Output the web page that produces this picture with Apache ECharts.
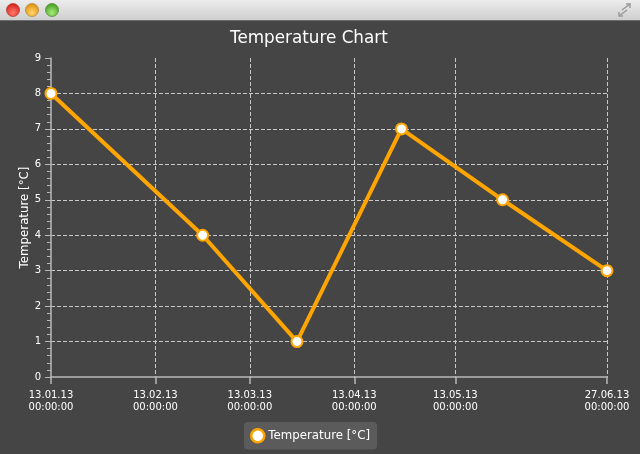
<!DOCTYPE html>
<html><head><meta charset="utf-8">
<script src="https://cdn.jsdelivr.net/npm/echarts@6/dist/echarts.min.js"></script>
<style>html,body{margin:0;padding:0;background:#454545;overflow:hidden}#c{width:640px;height:454px}</style>
</head><body><div id="c"></div>
<script>
const pointDates = ['2013-01-13', '2013-02-27', '2013-03-27', '2013-04-27', '2013-05-27', '2013-06-27'];
const temperatures = [8, 4, 1, 7, 5, 3];
const xTickDates = ['2013-01-13', '2013-02-13', '2013-03-13', '2013-04-13', '2013-05-13', '2013-06-27'];
const yMin = 0, yMax = 9, yStep = 1;
const chartTitle = 'Temperature Chart';
const seriesName = 'Temperature [°C]';
const yAxisTitle = 'Temperature [°C]';

function toTs(s) { const p = s.split('-').map(Number); return new Date(p[0], p[1] - 1, p[2]).getTime(); }
function pad(n) { return (n < 10 ? '0' : '') + n; }
function fmt(v) {
  const d = new Date(v);
  return pad(d.getDate()) + '.' + pad(d.getMonth() + 1) + '.' + pad(d.getFullYear() % 100) + '\n' +
    pad(d.getHours()) + ':' + pad(d.getMinutes()) + ':' + pad(d.getSeconds());
}
const xTicks = xTickDates.map(toTs);
const seriesData = pointDates.map((d, i) => [toTs(d), temperatures[i]]);

const FONT = 'DejaVu Sans';
const ORANGE = '#FFA500';
const chart = echarts.init(document.getElementById('c'), null, { renderer: 'canvas' });
chart.setOption({
  backgroundColor: '#454545',
  animation: false,
  title: {
    text: chartTitle, left: 230, top: 30, padding: 0,
    textStyle: { color: '#ffffff', fontSize: 16.8, fontWeight: 'normal', fontFamily: FONT }
  },
  legend: {
    data: [{ name: seriesName, icon: 'circle' }],
    left: 244, top: 422, padding: [6, 7, 6, 6],
    backgroundColor: '#5b5b5b', borderRadius: 4,
    itemWidth: 13, itemHeight: 13, itemGap: 4,
    itemStyle: { color: '#ffffff', borderColor: ORANGE, borderWidth: 2.5 },
    textStyle: { color: '#ffffff', fontSize: 11.8, fontFamily: FONT, padding: [0, 0, 0, -1] }
  },
  grid: { left: 51, right: 33, top: 58, bottom: 77, containLabel: false },
  xAxis: {
    type: 'value', scale: true,
    min: xTicks[0], max: xTicks[xTicks.length - 1],
    axisLine: { show: true, lineStyle: { color: '#b8b8b8', width: 1.5 } },
    axisTick: { show: true, customValues: xTicks, length: 7, lineStyle: { color: '#b8b8b8', width: 1.5 } },
    axisLabel: {
      customValues: xTicks, formatter: fmt, color: '#ffffff', fontSize: 10, fontFamily: FONT,
      lineHeight: 12, margin: 12.5, hideOverlap: false, showMinLabel: true, showMaxLabel: true
    },
    splitLine: { show: true, showMinLine: false, showMaxLine: true, lineStyle: { color: '#c8c8c8', type: [4, 2], width: 1 } }
  },
  yAxis: {
    type: 'value', min: yMin, max: yMax, interval: yStep,
    name: yAxisTitle, nameLocation: 'middle', nameGap: 20, nameRotate: 90, nameMoveOverlap: false,
    nameTextStyle: { color: '#ffffff', fontSize: 11.8, fontFamily: FONT },
    axisLine: { show: true, lineStyle: { color: '#b8b8b8', width: 1.5 } },
    axisTick: { show: true, length: 6, lineStyle: { color: '#b8b8b8', width: 1 } },
    minorTick: { show: true, splitNumber: 5, length: 4, lineStyle: { color: '#b8b8b8', width: 1 } },
    axisLabel: { color: '#ffffff', fontSize: 10, fontFamily: FONT, margin: 10 },
    splitLine: { show: true, showMinLine: false, showMaxLine: false, lineStyle: { color: '#c8c8c8', type: [4, 2], width: 1 } }
  },
  series: [{
    name: seriesName, type: 'line', data: seriesData, color: ORANGE,
    symbol: 'circle', symbolSize: 11, clip: true,
    lineStyle: { color: ORANGE, width: 4 },
    itemStyle: { color: '#ffffff', borderColor: ORANGE, borderWidth: 2 },
    z: 5
  }],
  graphic: [
    { type: 'rect', shape: { x: 0, y: 0, width: 640, height: 21 }, silent: true, z: 100,
      style: { fill: new echarts.graphic.LinearGradient(0, 0, 0, 1, [{ offset: 0, color: '#ececec' }, { offset: 1, color: '#cdcdcd' }]) } },
    { type: 'rect', shape: { x: 0, y: 20, width: 640, height: 1 }, silent: true, z: 101, style: { fill: '#6e6e6e' } },
    { type: 'circle', shape: { cx: 13, cy: 10, r: 6.5 }, silent: true, z: 102,
      style: { fill: new echarts.graphic.RadialGradient(0.5, 0.7, 0.7, [{ offset: 0, color: '#ff7a70' }, { offset: 1, color: '#d41c14' }]), stroke: '#a0241e', lineWidth: 0.6 } },
    { type: 'circle', shape: { cx: 32, cy: 10, r: 6.5 }, silent: true, z: 102,
      style: { fill: new echarts.graphic.RadialGradient(0.5, 0.7, 0.7, [{ offset: 0, color: '#ffd76a' }, { offset: 1, color: '#e08a0a' }]), stroke: '#a8741a', lineWidth: 0.6 } },
    { type: 'circle', shape: { cx: 52, cy: 10, r: 6.5 }, silent: true, z: 102,
      style: { fill: new echarts.graphic.RadialGradient(0.5, 0.7, 0.7, [{ offset: 0, color: '#a8ec7a' }, { offset: 1, color: '#3f9a1c' }]), stroke: '#3e7a22', lineWidth: 0.6 } },
    { type: 'polyline', shape: { points: [[622, 10], [630, 4]] }, silent: true, z: 102, style: { stroke: '#9a9a9a', lineWidth: 1.5 } },
    { type: 'polyline', shape: { points: [[626, 4], [630, 4], [630, 8]] }, silent: true, z: 102, style: { stroke: '#9a9a9a', lineWidth: 1.5, fill: null } },
    { type: 'polyline', shape: { points: [[619, 16], [627, 10]] }, silent: true, z: 102, style: { stroke: '#9a9a9a', lineWidth: 1.5 } },
    { type: 'polyline', shape: { points: [[619, 12], [619, 16], [623, 16]] }, silent: true, z: 102, style: { stroke: '#9a9a9a', lineWidth: 1.5, fill: null } }
  ]
});
</script></body></html>
